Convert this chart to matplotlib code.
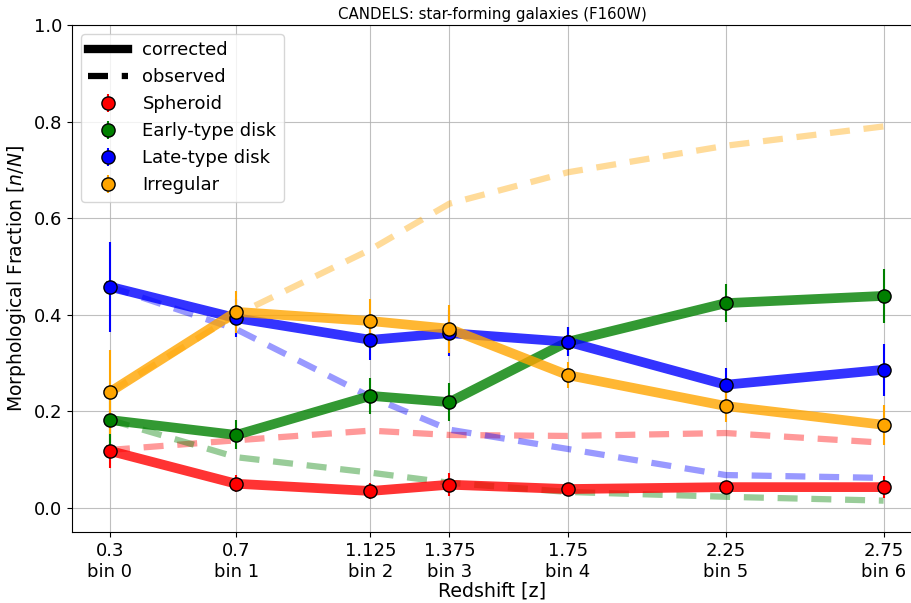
import matplotlib
matplotlib.use("Agg")
import matplotlib.pyplot as plt
from matplotlib.lines import Line2D

# redshift bins
z_bins = [0.3, 0.7, 1.125, 1.375, 1.75, 2.25, 2.75]
tick_labels = [f"{z}\nbin {i}" for i, z in enumerate(z_bins)]

classes = ["Spheroid", "Early-type disk", "Late-type disk", "Irregular"]
colors = ["red", "green", "blue", "orange"]

# corrected fractions
sph_corr = [0.118, 0.050, 0.035, 0.048, 0.039, 0.043, 0.043]
etd_corr = [0.182, 0.151, 0.232, 0.219, 0.344, 0.424, 0.439]
ltd_corr = [0.458, 0.393, 0.348, 0.362, 0.344, 0.255, 0.286]
irr_corr = [0.240, 0.406, 0.387, 0.371, 0.275, 0.211, 0.172]

# errors on corrected fractions
sph_err = [0.036, 0.018, 0.017, 0.024, 0.010, 0.010, 0.022]
etd_err = [0.060, 0.030, 0.037, 0.040, 0.030, 0.040, 0.056]
ltd_err = [0.093, 0.040, 0.042, 0.047, 0.030, 0.035, 0.054]
irr_err = [0.087, 0.043, 0.046, 0.050, 0.027, 0.033, 0.042]

# observed fractions
sph_obs = [0.120, 0.140, 0.160, 0.151, 0.149, 0.155, 0.135]
etd_obs = [0.182, 0.105, 0.073, 0.052, 0.033, 0.023, 0.015]
ltd_obs = [0.458, 0.370, 0.230, 0.162, 0.122, 0.068, 0.062]
irr_obs = [0.240, 0.400, 0.535, 0.630, 0.695, 0.750, 0.790]

corrected = [sph_corr, etd_corr, ltd_corr, irr_corr]
errors = [sph_err, etd_err, ltd_err, irr_err]
observed = [sph_obs, etd_obs, ltd_obs, irr_obs]

fig = plt.figure(figsize=(9.12, 6.03), dpi=100)
ax = fig.add_axes([0.079, 0.1177, 0.921, 0.8408])

for obs, c in zip(observed, colors):
    ax.plot(z_bins, obs, color=c, lw=4.5, ls=(0, (3.2, 2.2)), alpha=0.4, zorder=2)

handles = []
for corr, err, c, name in zip(corrected, errors, colors, classes):
    ax.plot(z_bins, corr, color=c, lw=7, alpha=0.8, zorder=3)
    h = ax.errorbar(z_bins, corr, yerr=err, fmt='o', color=c, ecolor=c,
                    elinewidth=1.5, markersize=9.5, markeredgecolor='black',
                    markeredgewidth=1, zorder=4, label=name)
    handles.append(h)

style_handles = [
    Line2D([0], [0], color='black', lw=6, label='corrected'),
    Line2D([0], [0], color='black', lw=4.5, ls=(0, (3.2, 2.2)), label='observed'),
]
ax.legend(handles=style_handles + handles, loc='upper left', fontsize=13,
          handlelength=2.2, borderaxespad=0.5)

ax.set_xticks(z_bins)
ax.set_xticklabels(tick_labels, fontsize=13)
ax.set_yticks([0.0, 0.2, 0.4, 0.6, 0.8, 1.0])
ax.tick_params(axis='y', labelsize=13)
ax.set_xlim(0.18, 2.84)
ax.set_ylim(-0.05, 1.0)
ax.grid(True, color='#b0b0b0', alpha=0.8)
ax.set_axisbelow(True)
ax.spines['right'].set_visible(False)

ax.set_xlabel('Redshift [z]', fontsize=13.7, labelpad=1)
ax.set_ylabel('Morphological Fraction [$n/N$]', fontsize=13.5)
ax.set_title('CANDELS: star-forming galaxies (F160W)', fontsize=10.8,
             family=['Liberation Sans Narrow', 'DejaVu Sans'], pad=4)

fig.savefig('out.png', dpi=100)
